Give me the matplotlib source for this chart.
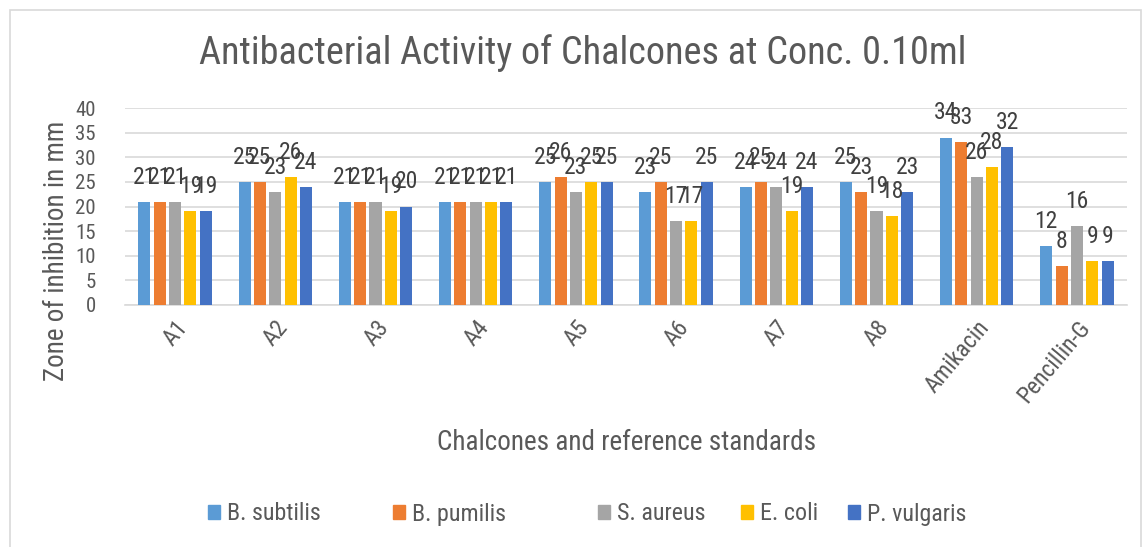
import numpy as np
import matplotlib.pyplot as plt
from matplotlib.patches import Rectangle, Patch

# data
categories = ["A1", "A2", "A3", "A4", "A5", "A6", "A7", "A8", "Amikacin", "Pencillin-G"]
b_subtilis = [21, 25, 21, 21, 25, 23, 24, 25, 34, 12]
b_pumilis = [21, 25, 21, 21, 26, 25, 25, 23, 33, 8]
s_aureus = [21, 23, 21, 21, 23, 17, 24, 19, 26, 16]
e_coli = [19, 26, 19, 21, 25, 17, 19, 18, 28, 9]
p_vulgaris = [19, 24, 20, 21, 25, 25, 24, 23, 32, 9]

series_names = ["B. subtilis", "B. pumilis", "S. aureus", "E. coli", "P. vulgaris"]
series_vals = [b_subtilis, b_pumilis, s_aureus, e_coli, p_vulgaris]
colors = ["#5B9BD5", "#ED7D31", "#A5A5A5", "#FFC000", "#4472C4"]

plt.rcParams["font.family"] = ["Roboto Condensed", "DejaVu Sans"]
txt = "#595959"
W, H = 1144, 547

fig = plt.figure(figsize=(W / 100, H / 100), dpi=100)
# chart border
fig.patches.append(Rectangle((10 / W, -0.05), (W - 13) / W, 1.05 - 10 / H,
                             transform=fig.transFigure, fill=False,
                             edgecolor="#D9D9D9", linewidth=1.2))

# plot area: x 125..1127 px, y 108..305 px
ax = fig.add_axes([125 / W, 1 - 305 / H, 1002 / W, 197 / H])
x = np.arange(len(categories))
step = 0.153
for i, (name, vals, color) in enumerate(zip(series_names, series_vals, colors)):
    pos = x + (i - 2) * step
    ax.bar(pos, vals, width=0.12, color=color, zorder=3)
    for p, v in zip(pos, vals):
        ax.annotate(str(v), (p, v), xytext=(0, 13), textcoords="offset points",
                    ha="center", va="baseline", fontsize=17, color="#404040",
                    zorder=4)

ax.set_ylim(0, 40)
ax.set_yticks(range(0, 41, 5))
ax.set_xlim(-0.5, len(categories) - 0.5)
ax.set_xticks(x)
ax.set_xticklabels(categories, rotation=50, ha="right", rotation_mode="anchor",
                   fontsize=17, color=txt)
ax.tick_params(axis="y", labelsize=15, labelcolor=txt, length=0, pad=21)
ax.tick_params(axis="x", length=0, pad=8)
ax.grid(axis="y", color="#D9D9D9", linewidth=1.2, zorder=0)
for s in ["top", "right", "left"]:
    ax.spines[s].set_visible(False)
ax.spines["bottom"].set_color("#D9D9D9")
ax.spines["bottom"].set_linewidth(1.2)

fig.text(57 / W, 1 - 251 / H, "Zone of inhibition in mm", rotation=90,
         ha="center", va="center", fontsize=19.5, color=txt)
fig.text(627 / W, 1 - 443 / H, "Chalcones and reference standards", ha="center",
         va="center", fontsize=19.5, color=txt)
fig.text(583 / W, 1 - 53 / H, "Antibacterial Activity of Chalcones at Conc. 0.10ml",
         ha="center", va="center", fontsize=27.5, color=txt)

# legend entries at the positions Excel put them
leg_x = [208, 393, 598, 741, 848]
for lx, name, color in zip(leg_x, series_names, colors):
    fig.legend(handles=[Patch(color=color, label=name)], loc="center left",
               bbox_to_anchor=(lx / W, 1 - 514 / H), frameon=False,
               fontsize=17.3, labelcolor=txt, handlelength=0.52, handleheight=0.52,
               handletextpad=0.25, borderaxespad=0, borderpad=0)

fig.savefig("out.png", dpi=100)
